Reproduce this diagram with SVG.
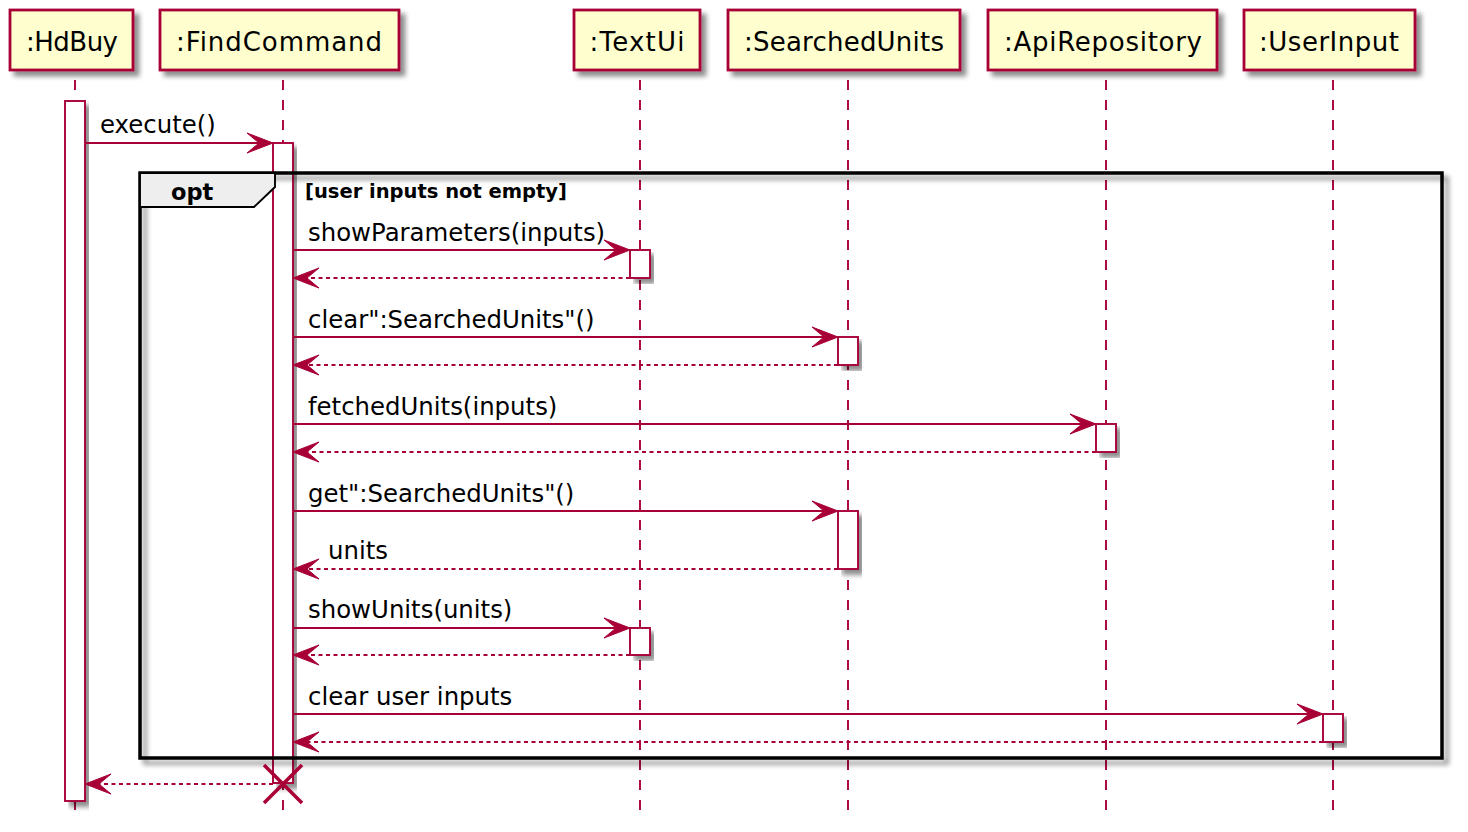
<svg xmlns="http://www.w3.org/2000/svg" width="1468" height="832" viewBox="0 0 1468 832">
<defs>
<filter id="sh" x="-10%" y="-10%" width="130%" height="130%">
<feGaussianBlur in="SourceAlpha" stdDeviation="2.5"/>
<feOffset dx="5" dy="5" result="b"/>
<feComponentTransfer><feFuncA type="linear" slope="0.45"/></feComponentTransfer>
<feMerge><feMergeNode/><feMergeNode in="SourceGraphic"/></feMerge>
</filter>
<style>
.part rect{fill:#FEFECE;stroke:#A80036;stroke-width:2.8;filter:url(#sh)}
.part text{font-family:"DejaVu Sans","Liberation Sans",sans-serif;font-size:26px;fill:#000;text-anchor:middle}
.life{stroke:#A80036;stroke-width:1.9;stroke-dasharray:10,10;fill:none}
.act{fill:#FFFFFF;stroke:#A80036;stroke-width:1.9;filter:url(#sh)}
.msg{stroke:#A80036;stroke-width:1.9;fill:none}
.ret{stroke:#A80036;stroke-width:1.9;fill:none;stroke-dasharray:4,3.5}
.head{fill:#A80036;stroke:#A80036;stroke-width:1}
.lbl{font-family:"DejaVu Sans","Liberation Sans",sans-serif;font-size:24.4px;fill:#000}
.frame{fill:none;stroke:#000;stroke-width:3.5;filter:url(#sh)}
.tab{fill:#EEEEEE;stroke:#000;stroke-width:1.9}
.opt{font-family:"DejaVu Sans","Liberation Sans",sans-serif;font-size:22.5px;font-weight:bold;fill:#000}
.guard{font-family:"DejaVu Sans","Liberation Sans",sans-serif;font-size:19.5px;font-weight:bold;fill:#000}
.x{stroke:#A80036;stroke-width:3.5}
</style>
</defs>
<rect width="1468" height="832" fill="#FFFFFF"/>
<g id="lifelines">
<line class="life" x1="75" y1="80" x2="75" y2="812"/>
<line class="life" x1="283" y1="80" x2="283" y2="812"/>
<line class="life" x1="640" y1="80" x2="640" y2="812"/>
<line class="life" x1="848" y1="80" x2="848" y2="812"/>
<line class="life" x1="1106" y1="80" x2="1106" y2="812"/>
<line class="life" x1="1333" y1="80" x2="1333" y2="812"/>
</g>
<g id="HdBuy" class="part"><rect x="10" y="10" width="123" height="60"/><text x="72" y="51" textLength="92">:HdBuy</text></g>
<g id="FindCommand" class="part"><rect x="160" y="10" width="239" height="60"/><text x="279" y="51" textLength="206">:FindCommand</text></g>
<g id="TextUi" class="part"><rect x="574" y="10" width="126" height="60"/><text x="637" y="51" textLength="95">:TextUi</text></g>
<g id="SearchedUnits" class="part"><rect x="728" y="10" width="232" height="60"/><text x="844" y="51" textLength="200">:SearchedUnits</text></g>
<g id="ApiRepository" class="part"><rect x="988" y="10" width="229" height="60"/><text x="1103" y="51" textLength="198">:ApiRepository</text></g>
<g id="UserInput" class="part"><rect x="1244" y="10" width="171" height="60"/><text x="1329" y="51" textLength="140">:UserInput</text></g>
<g id="activations">
<rect class="act" x="65" y="101" width="20" height="700"/>
<rect class="act" x="273" y="143" width="20" height="640"/>
<rect class="act" x="630" y="250" width="20" height="28"/>
<rect class="act" x="630" y="628" width="20" height="27"/>
<rect class="act" x="838" y="337" width="20" height="28"/>
<rect class="act" x="838" y="511" width="20" height="58"/>
<rect class="act" x="1096" y="424" width="20" height="28"/>
<rect class="act" x="1323" y="714" width="20" height="28"/>
</g>
<g id="opt">
<rect class="frame" x="140" y="173" width="1302" height="585"/>
<polygon class="tab" points="140,173 275,173 275,187 254,207 140,207"/>
<text class="opt" x="171" y="200">opt</text>
<text class="guard" x="305" y="198">[user inputs not empty]</text>
</g>
<g id="connectors">
<line class="msg" x1="85" y1="143" x2="268" y2="143"/>
<polygon class="head" points="273,143 247,133 259,143 247,153"/>
<text class="lbl" x="100" y="133">execute()</text>

<line class="msg" x1="293" y1="250" x2="625" y2="250"/>
<polygon class="head" points="630,250 604,240 616,250 604,260"/>
<text class="lbl" x="308" y="241">showParameters(inputs)</text>
<line class="ret" x1="630" y1="278" x2="298" y2="278"/>
<polygon class="head" points="293,278 319,268 307,278 319,288"/>

<line class="msg" x1="293" y1="337" x2="833" y2="337"/>
<polygon class="head" points="838,337 812,327 824,337 812,347"/>
<text class="lbl" x="308" y="328">clear":SearchedUnits"()</text>
<line class="ret" x1="838" y1="365" x2="298" y2="365"/>
<polygon class="head" points="293,365 319,355 307,365 319,375"/>

<line class="msg" x1="293" y1="424" x2="1091" y2="424"/>
<polygon class="head" points="1096,424 1070,414 1082,424 1070,434"/>
<text class="lbl" x="308" y="415">fetchedUnits(inputs)</text>
<line class="ret" x1="1096" y1="452" x2="298" y2="452"/>
<polygon class="head" points="293,452 319,442 307,452 319,462"/>

<line class="msg" x1="293" y1="511" x2="833" y2="511"/>
<polygon class="head" points="838,511 812,501 824,511 812,521"/>
<text class="lbl" x="308" y="502">get":SearchedUnits"()</text>
<line class="ret" x1="838" y1="569" x2="298" y2="569"/>
<polygon class="head" points="293,569 319,559 307,569 319,579"/>
<text class="lbl" x="328" y="559">units</text>

<line class="msg" x1="293" y1="628" x2="625" y2="628"/>
<polygon class="head" points="630,628 604,618 616,628 604,638"/>
<text class="lbl" x="308" y="618">showUnits(units)</text>
<line class="ret" x1="630" y1="655" x2="298" y2="655"/>
<polygon class="head" points="293,655 319,645 307,655 319,665"/>

<line class="msg" x1="293" y1="714" x2="1318" y2="714"/>
<polygon class="head" points="1323,714 1297,704 1309,714 1297,724"/>
<text class="lbl" x="308" y="705">clear user inputs</text>
<line class="ret" x1="1323" y1="742" x2="298" y2="742"/>
<polygon class="head" points="293,742 319,732 307,742 319,752"/>

<line class="ret" x1="273" y1="784" x2="90" y2="784"/>
<polygon class="head" points="85,784 111,774 99,784 111,794"/>
<line class="x" x1="264" y1="765" x2="302" y2="803"/>
<line class="x" x1="302" y1="765" x2="264" y2="803"/>
</g>
</svg>
